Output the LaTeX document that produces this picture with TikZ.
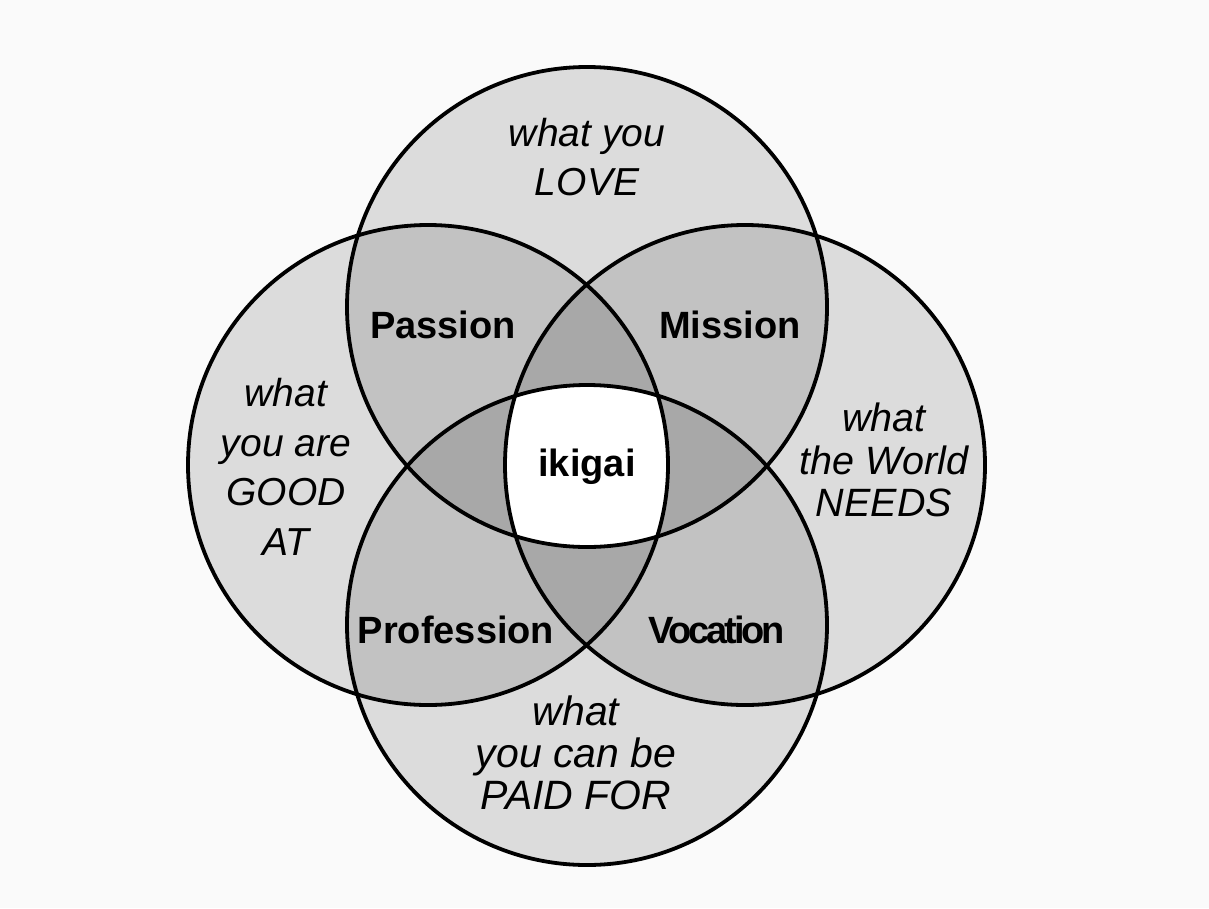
\documentclass[tikz,border=0pt]{standalone}
\usepackage{fontspec}
\setmainfont{Liberation Sans}
\definecolor{bgc}{HTML}{FAFAFA}
\definecolor{one}{HTML}{DCDCDC}
\definecolor{two}{HTML}{C2C2C2}
\definecolor{three}{HTML}{A8A8A8}
\begin{document}
\begin{tikzpicture}[x=1pt,y=-1pt,
  ring/.style={draw=black,line width=3.8pt},
  what/.style={font=\fontsize{39}{49.7}\selectfont\itshape,align=center,inner sep=0pt},
  whatb/.style={font=\fontsize{39.5}{42.5}\selectfont\itshape,align=center,inner sep=0pt},
  whatc/.style={font=\fontsize{41}{42}\selectfont\itshape,align=center,inner sep=0pt},
  lbl/.style={font=\fontsize{38}{46}\selectfont\bfseries,inner sep=0pt}]
\fill[bgc] (0,0) rectangle (1209,908);
\useasboundingbox (0,0) rectangle (1209,908);
\def\R{240}
\coordinate (T) at (587,307);
\coordinate (L) at (428,465);
\coordinate (Rc) at (745,465);
\coordinate (B) at (587,625);
% single
\foreach \c in {T,L,Rc,B} \fill[one] (\c) circle (\R);
% pairs
\foreach \a/\b in {T/L,T/Rc,B/L,B/Rc,T/B,L/Rc}{
  \begin{scope}\clip (\a) circle (\R); \fill[two] (\b) circle (\R);\end{scope}}
% triples
\foreach \a/\b/\c in {T/L/Rc,B/L/Rc,T/B/L,T/B/Rc}{
  \begin{scope}\clip (\a) circle (\R); \clip (\b) circle (\R); \fill[three] (\c) circle (\R);\end{scope}}
% quad
\begin{scope}\clip (T) circle (\R); \clip (L) circle (\R); \clip (Rc) circle (\R); \fill[white] (B) circle (\R);\end{scope}
% outlines
\draw[ring] (T) circle (\R);
\draw[ring] (L) circle (\R);
\draw[ring] (Rc) circle (\R);
\draw[ring] (B) circle (\R);
% texts
\node[what] (love) at (587,157) {what you\\LOVE};
\node[what] (good) at (286,467) {what\\you are\\GOOD\\AT};
\node[whatb] (needs) at (884,460) {what\\the World\\NEEDS};
\node[whatc] (paid) at (576,753) {what\\you can be\\PAID FOR};
\node[lbl] (passion) at (443,325) {Passion};
\node[lbl] (mission) at (730,325) {Mission};
\node[lbl] (profession) at (456,630) {Profession};
\node[lbl] (vocation) at (717,630) {\addfontfeature{LetterSpace=-8}Vocation};
\node[lbl] (ikigai) at (587,467) {ikigai};
\end{tikzpicture}
\end{document}
